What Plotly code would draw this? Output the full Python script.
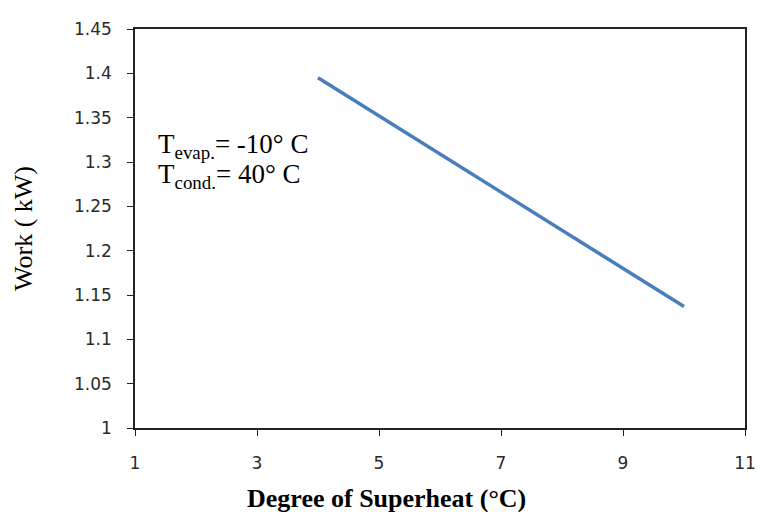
import plotly.graph_objects as go

superheat = [4, 5, 6, 7, 8, 9, 10]
work_kw = [1.395, 1.352, 1.309, 1.266, 1.223, 1.180, 1.137]

x_ticks = [1, 3, 5, 7, 9, 11]
x_tick_labels = ["1", "3", "5", "7", "9", "11"]
y_ticks = [1.0, 1.05, 1.1, 1.15, 1.2, 1.25, 1.3, 1.35, 1.4, 1.45]
y_tick_labels = ["1", "1.05", "1.1", "1.15", "1.2", "1.25", "1.3", "1.35", "1.4", "1.45"]

fig = go.Figure()
fig.add_trace(go.Scatter(x=superheat, y=work_kw, mode="lines",
                         line=dict(color="#4A7EBB", width=3.5), showlegend=False))

tick_font = dict(family="DejaVu Sans", size=17, color="#2a2a2a")
fig.update_xaxes(range=[1, 11], tickvals=x_ticks, ticktext=x_tick_labels,
                 showgrid=False, zeroline=False, showline=True, linecolor="#222222",
                 linewidth=1.5, mirror=True, ticks="outside", ticklen=6, tickwidth=1.3,
                 tickcolor="#222222", tickfont=tick_font, ticklabelstandoff=13,
                 ticklabeloverflow="allow")
fig.update_yaxes(range=[1, 1.45], tickvals=y_ticks, ticktext=y_tick_labels,
                 showgrid=False, zeroline=False, showline=True, linecolor="#222222",
                 linewidth=1.5, mirror=True, ticks="outside", ticklen=6, tickwidth=1.3,
                 tickcolor="#222222", tickfont=tick_font, ticklabelstandoff=12,
                 ticklabeloverflow="allow",
                 title=dict(text="Work ( kW)",
                            font=dict(family="Liberation Serif", size=26, color="black"),
                            standoff=34))

fig.add_annotation(x=0.413, y=0, xref="paper", yref="paper", xanchor="center", yanchor="middle",
                   yshift=-70, text="<b>Degree of Superheat (°C)</b>", showarrow=False,
                   font=dict(family="Liberation Serif", size=26, color="black"))

ann_font = dict(family="Liberation Serif", size=27, color="black")
fig.add_annotation(x=0.034, y=1.318, xref="paper", yref="y", xanchor="left", yanchor="middle",
                   text="T<sub>evap.</sub>= -10° C", showarrow=False, font=ann_font)
fig.add_annotation(x=0.034, y=1.284, xref="paper", yref="y", xanchor="left", yanchor="middle",
                   text="T<sub>cond.</sub>= 40° C", showarrow=False, font=ann_font)

fig.update_layout(width=759, height=504, paper_bgcolor="white", plot_bgcolor="white",
                  margin=dict(l=127, r=15, t=11, b=84))
fig.write_html("out.html")
